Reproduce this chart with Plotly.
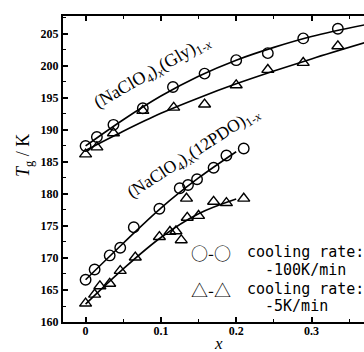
import plotly.graph_objects as go

# ---- data ----
gly_x_100 = [0.0, 0.015, 0.037, 0.076, 0.116, 0.158, 0.200, 0.242, 0.289, 0.335]
gly_y_100 = [187.5, 188.9, 190.8, 193.4, 196.7, 198.8, 200.9, 202.0, 204.3, 205.8]
gly_x_5 = [0.0, 0.015, 0.037, 0.076, 0.117, 0.158, 0.200, 0.242, 0.289, 0.335]
gly_y_5 = [186.2, 187.3, 189.5, 193.0, 193.5, 194.0, 197.0, 199.4, 200.5, 203.1]

pdo_x_100 = [0.0, 0.012, 0.032, 0.046, 0.064, 0.098, 0.125, 0.136, 0.148, 0.170, 0.187, 0.210]
pdo_y_100 = [166.6, 168.2, 170.4, 171.6, 174.8, 177.7, 180.9, 181.4, 182.3, 184.1, 186.0, 187.1]
pdo_x_5 = [0.0, 0.012, 0.019, 0.032, 0.046, 0.066, 0.098, 0.112, 0.120, 0.127, 0.134, 0.135, 0.150, 0.170, 0.187, 0.210]
pdo_y_5 = [162.9, 164.3, 165.6, 166.0, 168.0, 170.1, 173.3, 174.1, 174.2, 172.8, 179.3, 176.3, 176.6, 178.8, 178.6, 179.3]

# fitted curves as drawn in the picture
gly_fit_x_100 = [0.0, 0.05, 0.10, 0.15, 0.20, 0.25, 0.30, 0.37]
gly_fit_y_100 = [187.5, 191.6, 195.3, 198.4, 200.9, 202.9, 204.6, 206.4]
gly_fit_x_5 = [0.0, 0.05, 0.10, 0.15, 0.20, 0.25, 0.30, 0.37]
gly_fit_y_5 = [186.8, 189.8, 192.6, 195.0, 197.2, 199.2, 201.1, 203.6]
pdo_fit_x_100 = [0.0, 0.05, 0.10, 0.15, 0.20]
pdo_fit_y_100 = [166.6, 172.3, 177.8, 182.5, 186.6]
pdo_fit_x_5 = [0.0, 0.05, 0.10, 0.15, 0.20]
pdo_fit_y_5 = [162.8, 168.3, 173.2, 176.9, 179.2]

x_ticks = [0, 0.1, 0.2, 0.3]
x_tick_labels = ["0", "0.1", "0.2", "0.3"]
y_ticks = [160, 165, 170, 175, 180, 185, 190, 195, 200, 205]

W, H = 364, 352
ML, MR, MT, MB = 63, 0, 16, 30
PW, PH = W - ML - MR, H - MT - MB


def px(xp):
    return (xp - ML) / PW


def py(yp):
    return (H - MB - yp) / PH


fig = go.Figure()
for fx, fy in [(gly_fit_x_100, gly_fit_y_100), (gly_fit_x_5, gly_fit_y_5),
               (pdo_fit_x_100, pdo_fit_y_100), (pdo_fit_x_5, pdo_fit_y_5)]:
    fig.add_trace(go.Scatter(x=fx, y=fy, mode="lines", line=dict(color="black", width=1.6, shape="spline"),
                             hoverinfo="skip", showlegend=False))

for dx, dy, sym in [(gly_x_100, gly_y_100, "circle-open"), (gly_x_5, gly_y_5, "triangle-up-open"),
                    (pdo_x_100, pdo_y_100, "circle-open"), (pdo_x_5, pdo_y_5, "triangle-up-open")]:
    fig.add_trace(go.Scatter(x=dx, y=dy, mode="markers",
                             marker=dict(symbol=sym, size=10.5, color="black", line=dict(color="black", width=1.4)),
                             showlegend=False))

serif = "Liberation Serif"
mono = "DejaVu Sans Mono"
cjk = "Noto Sans CJK JP"


def note(xp_, yp_, text, family, size, angle=0, xanchor="center"):
    return dict(x=px(xp_), y=py(yp_), xref="paper", yref="paper", showarrow=False,
                xanchor=xanchor, yanchor="middle", text=text, textangle=angle,
                font=dict(family=family, size=size, color="black"))


ann = [
    note(152, 72, "(NaClO<sub>4</sub>)<sub><i>x</i></sub>(Gly)<sub>1-<i>x</i></sub>", serif, 18, -30),
    note(193, 153, "(NaClO<sub>4</sub>)<sub><i>x</i></sub>(12PDO)<sub>1-<i>x</i></sub>", serif, 17.5, -33),
    note(189, 252, "○-○", cjk, 17, xanchor="left"),
    note(245, 252, "cooling rate:", mono, 15, xanchor="left"),
    note(263, 270, "-100K/min", mono, 15, xanchor="left"),
    note(189, 289, "△-△", cjk, 17, xanchor="left"),
    note(245, 289, "cooling rate:", mono, 15, xanchor="left"),
    note(263, 306, "-5K/min", mono, 15, xanchor="left"),
    note(24, 156, "<i>T</i><sub>g</sub> / K", serif, 18, -90),
    note(218, 343, "<i>x</i>", serif, 17),
]

fig.update_layout(
    width=W, height=H, margin=dict(l=ML, r=MR, t=MT, b=MB, pad=0),
    paper_bgcolor="white", plot_bgcolor="white", showlegend=False,
    annotations=ann,
    xaxis=dict(range=[-0.030, 0.3697], tickvals=x_ticks, ticktext=x_tick_labels,
               ticks="inside", ticklen=5, tickwidth=1.5, tickcolor="black",
               showline=True, linewidth=2, linecolor="black", mirror="allticks",
               showgrid=False, zeroline=False, ticklabelstandoff=-3,
               minor=dict(dtick=0.05, ticks="inside", ticklen=3, tickwidth=1, tickcolor="black", showgrid=False),
               tickfont=dict(family=serif, size=12, color="black", weight="bold")),
    yaxis=dict(range=[160, 207.8], tickvals=y_ticks,
               ticks="inside", ticklen=5, tickwidth=1.5, tickcolor="black",
               showline=True, linewidth=2, linecolor="black", mirror=False,
               showgrid=False, zeroline=False,
               minor=dict(dtick=2.5, tick0=160, ticks="inside", ticklen=3, tickwidth=1, tickcolor="black", showgrid=False),
               tickfont=dict(family=serif, size=12, color="black", weight="bold")),
)

fig.write_html("out.html")
